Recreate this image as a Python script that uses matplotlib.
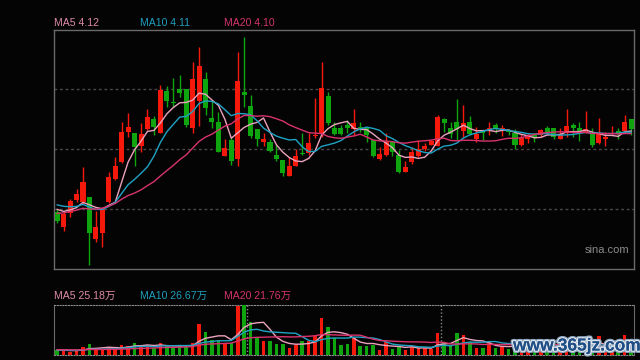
import numpy as np
import pandas as pd
import matplotlib
matplotlib.use("Agg")
import matplotlib.pyplot as plt
import matplotlib.patheffects as pe

plt.rcParams['font.family'] = ['Liberation Sans', 'Noto Sans CJK SC', 'DejaVu Sans']

# 日K数据 (90根)
opens = [3.31, 3.16, 3.30, 3.43, 3.41, 3.46, 3.04, 3.10, 3.41, 3.64,
         3.81, 4.11, 4.10, 3.97, 4.14, 4.24, 4.10, 4.52, 4.41, 4.54,
         4.54, 4.15, 4.42, 4.64, 4.25, 4.21, 3.87, 4.03, 3.84, 4.51,
         4.37, 4.14, 4.01, 4.01, 3.88, 3.83, 3.67, 3.77, 3.90, 3.90,
         4.07, 4.09, 4.47, 4.15, 4.15, 4.18, 4.14, 4.16, 4.15, 4.03,
         3.84, 3.88, 4.01, 3.88, 3.71, 3.81, 3.87, 3.94, 3.98, 3.97,
         4.24, 4.15, 4.21, 4.12, 4.21, 4.04, 4.12, 4.14, 4.18, 4.14,
         4.13, 4.10, 3.98, 4.04, 4.08, 4.08, 4.15, 4.15, 4.04, 4.10,
         4.18, 4.15, 4.10, 4.10, 4.00, 4.04, 4.09, 4.12, 4.12, 4.24]
highs = [3.34, 3.31, 3.44, 3.54, 3.76, 3.46, 3.32, 3.36, 3.71, 3.86,
         4.21, 4.30, 4.10, 4.20, 4.34, 4.27, 4.58, 4.57, 4.65, 4.68,
         4.54, 4.81, 4.96, 4.71, 4.43, 4.31, 4.04, 4.06, 4.91, 5.06,
         4.48, 4.14, 4.10, 4.04, 3.98, 3.83, 3.86, 3.94, 4.10, 4.10,
         4.45, 4.81, 4.51, 4.21, 4.18, 4.23, 4.34, 4.21, 4.15, 4.03,
         3.96, 4.10, 4.01, 3.93, 3.82, 3.96, 4.03, 4.00, 4.03, 4.28,
         4.25, 4.21, 4.44, 4.38, 4.27, 4.16, 4.13, 4.21, 4.20, 4.18,
         4.14, 4.14, 4.09, 4.10, 4.10, 4.14, 4.17, 4.15, 4.15, 4.34,
         4.20, 4.21, 4.32, 4.15, 4.25, 4.11, 4.17, 4.15, 4.28, 4.24]
lows = [3.20, 3.12, 3.26, 3.41, 3.39, 2.78, 3.01, 2.96, 3.40, 3.63,
        3.80, 4.06, 3.77, 3.91, 4.13, 4.08, 4.10, 4.36, 4.36, 4.46,
        4.16, 4.10, 4.17, 4.28, 4.15, 3.91, 3.87, 3.78, 3.77, 4.36,
        4.05, 3.97, 3.97, 3.91, 3.82, 3.67, 3.67, 3.77, 3.88, 3.88,
        4.05, 4.06, 4.18, 4.08, 4.08, 4.10, 4.07, 4.11, 4.01, 3.86,
        3.83, 3.87, 3.87, 3.70, 3.71, 3.79, 3.86, 3.92, 3.98, 3.97,
        4.11, 4.05, 4.03, 4.06, 4.08, 4.01, 4.03, 4.08, 4.10, 4.07,
        4.08, 3.94, 3.97, 4.00, 4.01, 4.06, 4.09, 4.04, 4.04, 4.06,
        4.06, 4.02, 4.10, 3.96, 3.99, 3.97, 4.08, 4.04, 4.11, 4.08]
closes = [3.22, 3.29, 3.42, 3.49, 3.61, 3.10, 3.16, 3.35, 3.66, 3.77,
          4.11, 4.16, 3.96, 4.09, 4.26, 4.16, 4.53, 4.42, 4.40, 4.50,
          4.18, 4.64, 4.77, 4.35, 4.21, 3.91, 3.95, 3.82, 4.62, 4.48,
          4.07, 4.04, 4.04, 3.92, 3.84, 3.70, 3.77, 3.87, 3.89, 4.00,
          4.08, 4.55, 4.20, 4.09, 4.09, 4.15, 4.20, 4.15, 4.08, 3.87,
          3.89, 4.01, 3.91, 3.71, 3.76, 3.91, 3.94, 3.97, 4.02, 4.26,
          4.20, 4.09, 4.14, 4.20, 4.09, 4.09, 4.10, 4.15, 4.14, 4.15,
          4.11, 3.98, 4.05, 4.07, 4.05, 4.13, 4.10, 4.06, 4.09, 4.17,
          4.15, 4.10, 4.14, 3.98, 4.10, 4.06, 4.10, 4.09, 4.21, 4.14]
# 成交量 (万手)
volumes = [10.8, 10.8, 7.5, 10.8, 19.2, 27.5, 14.2, 14.2, 18.3, 15.0,
           24.2, 22.5, 30.0, 20.8, 24.2, 17.5, 29.2, 22.5, 17.5, 20.8,
           22.5, 29.2, 77.5, 55.8, 35.8, 37.5, 29.2, 29.2, 120.8, 125.0,
           80.8, 43.3, 35.0, 33.3, 27.5, 27.5, 17.5, 25.0, 35.0, 35.0,
           47.5, 92.5, 70.0, 40.8, 25.0, 27.5, 42.5, 22.5, 22.5, 25.0,
           12.5, 32.5, 15.0, 18.3, 12.5, 20.8, 16.7, 16.7, 15.0, 55.0,
           30.8, 22.5, 55.0, 50.0, 32.5, 17.5, 17.5, 30.8, 17.5, 20.8,
           15.0, 20.8, 17.5, 15.0, 15.0, 20.0, 15.0, 17.5, 12.5, 22.5,
           42.0, 20.0, 20.0, 22.0, 47.5, 20.0, 15.0, 17.5, 50.0, 25.0]
# 图表之前的收盘价与成交量 (用于均线起点)
prev_closes = [3.18, 3.15, 3.21, 3.23, 3.25, 3.19, 3.17, 3.23, 3.25, 3.24,
               3.43, 3.47, 3.45, 3.41, 3.37, 3.39, 3.35, 3.37, 3.35]
prev_volumes = [14, 12, 15, 13, 11, 14, 16, 12, 13, 14,
                12, 11, 13, 12, 10, 12, 13, 11, 12]

price_labels = ['MA5 4.12', 'MA10 4.11', 'MA20 4.10']
vol_labels = ['MA5 25.18万', 'MA10 26.67万', 'MA20 21.76万']
ma_periods = [5, 10, 20]
ma_colors = ['#eca2bd', '#1fa3c4', '#d8336e']
label_colors = ['#dd8aa8', '#1f9fbd', '#d3336c']

up_col = '#f4190b'
dn_col = '#0fa50f'
bg = '#040404'

n = len(closes)
x = np.arange(n)
o = np.array(opens)
c = np.array(closes)
cols = [up_col if c[i] >= o[i] else dn_col for i in range(n)]

fig = plt.figure(figsize=(6.4, 3.6), dpi=100, facecolor=bg)
ax = fig.add_axes([54.3/640, 1-269/360, 580/640, 239.5/360], facecolor=bg)
axv = fig.add_axes([54.3/640, 1-354.7/360, 580/640, 50/360], facecolor=bg)

xl = (-0.45, 89.5)

# 主图
ylo, yhi = 2.74, 5.135
ax.set_xlim(*xl)
ax.set_ylim(ylo, yhi)
for k in (1, 2, 3):
    yy = ylo + (yhi - ylo) * k / 4
    ax.axhline(yy, color='#4a4a4a', lw=1.0, ls=(0, (2, 2)), zorder=0)
ax.vlines(x, lows, highs, colors=cols, lw=1.0, zorder=2)
body_h = np.maximum(np.abs(c - o), 0.01)
ax.bar(x, body_h, bottom=np.minimum(o, c), width=0.78, color=cols, lw=0, zorder=3)

allc = pd.Series(prev_closes + closes)
for p, col in zip(ma_periods, ma_colors):
    ma = allc.rolling(p).mean().values[-n:]
    ax.plot(x, ma, color=col, lw=1.0, zorder=4)

for s in ax.spines.values():
    s.set_color('#6a6a6a')
    s.set_linewidth(1.0)
ax.set_xticks([])
ax.set_yticks([])
ax.text(0.992, 0.078, 'sina.com', transform=ax.transAxes, ha='right', va='center',
        color='#8a8a8a', fontsize=8)

lx = [54.5, 139.5, 224.5]
for t, col, xp in zip(price_labels, label_colors, lx):
    fig.text(xp/640, 1-23.5/360, t, color=col, fontsize=7.6, ha='left', va='center')

# 成交量
axv.set_xlim(*xl)
axv.set_ylim(0, 125)
axv.bar(x, volumes, width=0.55, color=cols, lw=0, zorder=3)
allv = pd.Series(prev_volumes + volumes)
for p, col in zip(ma_periods, ma_colors):
    ma = allv.rolling(p).mean().values[-n:]
    axv.plot(x, ma, color=col, lw=1.0, zorder=4)
for xv in (29.5, 59.5):
    axv.axvline(xv, color='#8a8a8a', lw=1.0, ls=(0, (1, 1.5)), zorder=1)
axv.spines['left'].set_color('#6a6a6a')
axv.spines['right'].set_color('#6a6a6a')
for side in ('top', 'bottom'):
    axv.spines[side].set_color('#8a8a8a')
    axv.spines[side].set_linestyle((0, (1, 1.5)))
axv.set_xticks([])
axv.set_yticks([])
for t, col, xp in zip(vol_labels, label_colors, lx):
    fig.text(xp/640, 1-295.5/360, t, color=col, fontsize=7.6, ha='left', va='center')

fig.text(577/640, 1-346/360, 'www.365jz.com', color='#1f4f86', fontsize=12.5,
         fontweight='bold', ha='center', va='center', zorder=10,
         path_effects=[pe.withStroke(linewidth=3.5, foreground='#8fa6bf'),
                       pe.withStroke(linewidth=1.8, foreground='#e4e8ee'),
                       pe.Normal()])

fig.savefig('out.png', dpi=100, facecolor=bg)
